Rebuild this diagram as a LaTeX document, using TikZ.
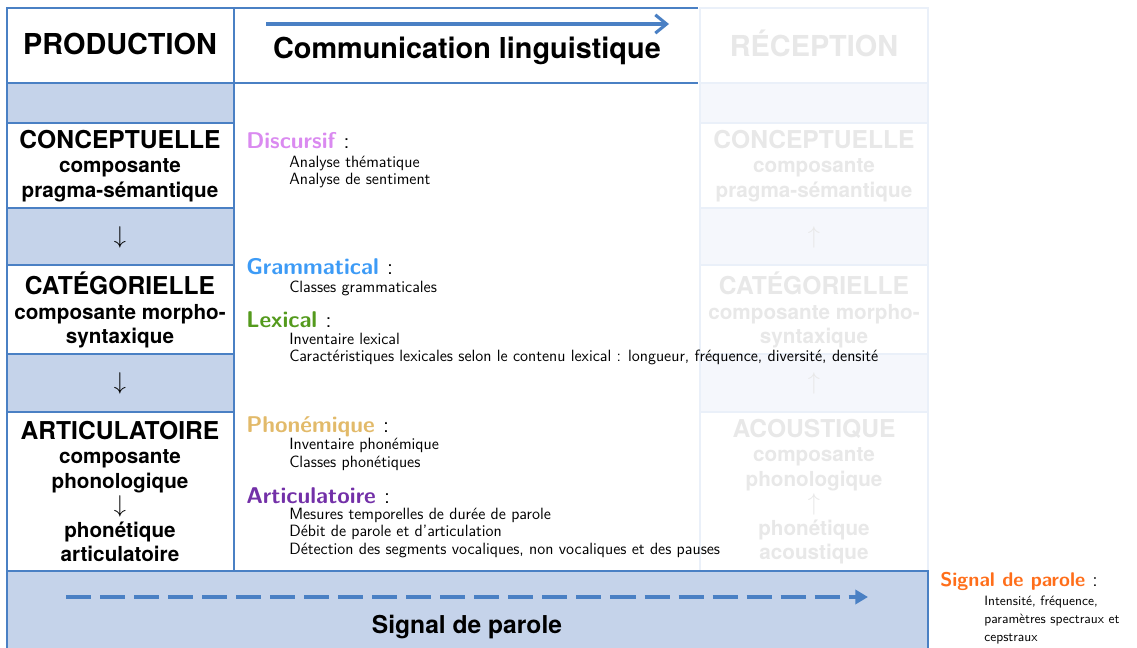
\documentclass[tikz,border=0pt]{standalone}
\usepackage[rgb]{xcolor}
\usepackage{fontspec}
\newfontfamily\helvfont{TeX Gyre Heros}
\usepackage{tikz}
\usetikzlibrary{arrows.meta}

\definecolor{lineblue}{HTML}{4A80C4}
\definecolor{bandfill}{HTML}{C5D3EA}
\definecolor{fadeborder}{HTML}{EAF0F9}
\definecolor{fadefill}{HTML}{F5F7FC}
\definecolor{fadetext}{HTML}{E8E8E8}
\definecolor{discursif}{HTML}{DA8AF0}
\definecolor{grammatical}{HTML}{3D9BF6}
\definecolor{lexical}{HTML}{549A1D}
\definecolor{phonemique}{HTML}{E2BA6A}
\definecolor{articulatoire}{HTML}{7330A8}
\definecolor{signalorange}{HTML}{FF6E1A}

\tikzset{
  boxline/.style={draw=lineblue, line width=2.1pt},
  fadeline/.style={draw=fadeborder, line width=2.1pt},
  boxtext/.style={align=center, font=\helvfont\bfseries\fontsize{14.7}{17.4}\selectfont},
  bigtext/.style={anchor=base, font=\helvfont\bfseries\fontsize{20.5}{24}\selectfont},
  arrowtext/.style={font=\fontsize{17}{17}\selectfont},
  levelhead/.style={anchor=base west, inner sep=0pt, font=\sffamily\bfseries\fontsize{16.2}{19}\selectfont},
  leveltext/.style={anchor=base west, inner sep=0pt, align=left, font=\sffamily\fontsize{11.6}{12.4}\selectfont},
}

\begin{document}
\begin{tikzpicture}[x=0.025cm, y=-0.025cm]
\useasboundingbox (0,0) rectangle (1137,648);
\clip (0,0) rectangle (1137,648);


% Reception column (faded)
\filldraw[fill=white, fadeline] (700,8) rectangle (928,83);
\filldraw[fill=fadefill, fadeline] (700,83) rectangle (928,123);
\filldraw[fill=white, fadeline] (700,123) rectangle (928,208);
\filldraw[fill=fadefill, fadeline] (700,208) rectangle (928,265);
\filldraw[fill=white, fadeline] (700,265) rectangle (928,354);
\filldraw[fill=fadefill, fadeline] (700,354) rectangle (928,412);
\filldraw[fill=white, fadeline] (700,412) rectangle (928,571);


% Production column
\filldraw[fill=white, boxline] (7,8) rectangle (234,83);
\filldraw[fill=bandfill, boxline] (7,83) rectangle (234,123);
\filldraw[fill=white, boxline] (7,123) rectangle (234,208);
\filldraw[fill=bandfill, boxline] (7,208) rectangle (234,265);
\filldraw[fill=white, boxline] (7,265) rectangle (234,354);
\filldraw[fill=bandfill, boxline] (7,354) rectangle (234,412);
\filldraw[fill=white, boxline] (7,412) rectangle (234,571);


% Communication column
\draw[boxline] (698,8) -- (234,8) -- (234,571) -- (698,571);
\draw[boxline] (234,83) -- (698,83);


% Signal de parole
\filldraw[fill=bandfill, boxline] (7,571) rectangle (928,670);


% Headers
\path
(120,55) node[bigtext] (production) {PRODUCTION}
(467,59) node[bigtext] (communication) {Communication linguistique}
(814,57) node[bigtext, text=fadetext] (reception) {RÉCEPTION}
(467,633) node[bigtext, font=\helvfont\bfseries\fontsize{17.5}{20}\selectfont] (signal) {Signal de parole};

\coordinate (comstart) at (266,24);
\coordinate (comend) at (669,24);
\draw[lineblue, line width=2.2pt, -{Straight Barb[length=8pt, width=13pt, line width=2.2pt]}] (comstart) -- (comend);

\coordinate (sigstart) at (66,597);
\coordinate (sigend) at (868,597);
\draw[lineblue, line width=2.8pt, dash pattern=on 17.8pt off 6.4pt, -{Triangle[length=9pt, width=10pt]}] (sigstart) -- (sigend);


% Production levels
\path
(120,166) node[boxtext] (conceptprod) {{\fontsize{17.5}{17}\selectfont CONCEPTUELLE}\\composante\\pragma-sémantique}
(120,237) node[arrowtext] (downone) {$\downarrow$}
(120,310) node[boxtext] (categprod) {{\fontsize{17.5}{17}\selectfont CATÉGORIELLE}\\composante morpho-\\syntaxique}
(120,383) node[arrowtext] (downtwo) {$\downarrow$}
(120,491.5) node[boxtext] (articprod) {{\fontsize{17.5}{17}\selectfont ARTICULATOIRE}\\composante\\phonologique\\{\fontsize{16}{16}\selectfont$\downarrow$}\\phonétique\\articulatoire};


% Reception levels
\path
(814,166) node[boxtext, text=fadetext] (conceptrec) {{\fontsize{17.5}{17}\selectfont CONCEPTUELLE}\\composante\\pragma-sémantique}
(814,237) node[arrowtext, text=fadetext] (upone) {$\uparrow$}
(814,310) node[boxtext, text=fadetext] (categrec) {{\fontsize{17.5}{17}\selectfont CATÉGORIELLE}\\composante morpho-\\syntaxique}
(814,383) node[arrowtext, text=fadetext] (uptwo) {$\uparrow$}
(814,491.5) node[boxtext, text=fadetext] (acousrec) {{\fontsize{17.5}{17}\selectfont ACOUSTIQUE}\\composante\\phonologique\\{\fontsize{16}{16}\selectfont$\uparrow$}\\phonétique\\acoustique};


% Analysis levels (lists are placed by their last line)
\path
(246,149) node[levelhead] (discursif) {{\color{discursif}Discursif} \mdseries :}
(289,185) node[leveltext] (discursiflist) {Analyse thématique\\Analyse de sentiment}
(246,275) node[levelhead] (grammatical) {{\color{grammatical}Grammatical} \mdseries :}
(289,293) node[leveltext] (grammaticallist) {Classes grammaticales}
(246,328) node[levelhead] (lexical) {{\color{lexical}Lexical} \mdseries :}
(289,362) node[leveltext] (lexicallist) {Inventaire lexical\\Caractéristiques lexicales selon le contenu lexical : longueur, fréquence, diversité, densité}
(246,433) node[levelhead] (phonemique) {{\color{phonemique}Phonémique} \mdseries :}
(289,467) node[leveltext] (phonemiquelist) {Inventaire phonémique\\Classes phonétiques}
(246,503) node[levelhead] (articulatoire) {{\color{articulatoire}Articulatoire} \mdseries :}
(289,554) node[leveltext] (articulatoirelist) {Mesures temporelles de durée de parole\\Débit de parole et d'articulation\\Détection des segments vocaliques, non vocaliques et des pauses}
(940,586) node[levelhead, font=\sffamily\bfseries\fontsize{14.1}{17}\selectfont] (signalhead) {{\color{signalorange}Signal de parole} \mdseries :}
(984,641) node[leveltext, font=\sffamily\fontsize{9.6}{12.8}\selectfont] (signallist) {Intensité, fréquence,\\paramètres spectraux et\\cepstraux};


\end{tikzpicture}
\end{document}
